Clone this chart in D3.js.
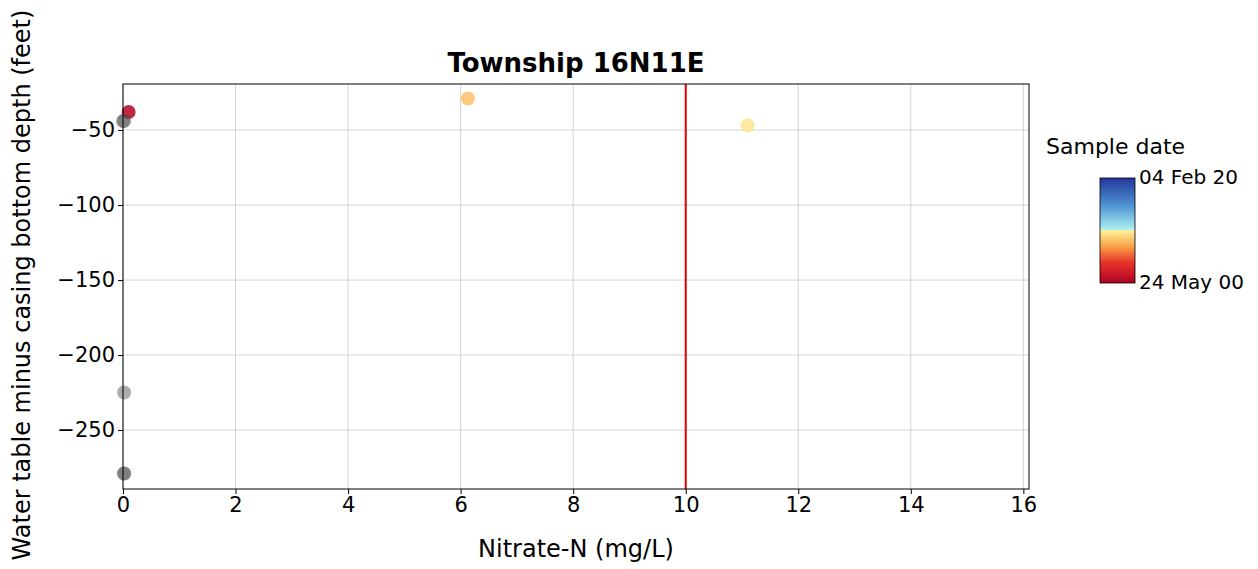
<!DOCTYPE html>
<html>
<head>
<meta charset="utf-8">
<script src="https://cdn.jsdelivr.net/npm/d3@7"></script>
<style>
  body { margin: 0; background: #fff; }
  text { font-family: "DejaVu Sans", sans-serif; fill: #000; }
</style>
</head>
<body>
<div id="canvas"></div>
<script>
"use strict"

/* Data */
let nitrate = [0.1, 0.0, 6.13, 11.1, 0.02, 0.02, 0.02, 0.02];
let depth = [-38, -44, -29, -47, -225, -279, -279, -44];
let sampleDate = ["2000-09-01", null, "2008-06-01", "2009-11-01", null, null, null, null];
let xTicks = [0, 2, 4, 6, 8, 10, 12, 14, 16];
let yTicks = [-250, -200, -150, -100, -50];
let dateRange = ["2000-05-24", "2020-02-04"];
let dateLabels = ["24 May 00", "04 Feb 20"];
let limitValue = 10;

/* Drawing config */
let svgWidth = 1258;
let svgHeight = 569;
let plot = { left: 123, right: 1029, top: 84, bottom: 489 };

let svg = d3.select("#canvas")
    .append("svg")
    .attr("width", svgWidth)
    .attr("height", svgHeight);

let xScale = d3.scaleLinear()
    .domain([0, 16.1])
    .range([plot.left, plot.right]);

let yScale = d3.scaleLinear()
    .domain([-289.3, -19.3])
    .range([plot.bottom, plot.top]);

let parseDate = d3.timeParse("%Y-%m-%d");
let tScale = d3.scaleTime()
    .domain(dateRange.map(parseDate))
    .range([0, 1]);

// red (old) -> yellow | cyan -> blue (new), like the reference bar
let colorOf = d3.scaleLinear()
    .domain([0, 0.2, 0.35, 0.5, 0.5001, 0.75, 1])
    .range(["#b00026", "#e8352a", "#f8a448", "#fff09a", "#b0f4f4", "#4a8ed0", "#24379a"])
    .clamp(true);

/* grid */
svg.append("g")
    .selectAll("line")
    .data(xTicks)
    .join("line")
    .attr("x1", d => xScale(d))
    .attr("x2", d => xScale(d))
    .attr("y1", plot.top)
    .attr("y2", plot.bottom)
    .attr("stroke", "#c8c8c8")
    .attr("stroke-width", 0.8);

svg.append("g")
    .selectAll("line")
    .data(yTicks)
    .join("line")
    .attr("x1", plot.left)
    .attr("x2", plot.right)
    .attr("y1", d => yScale(d))
    .attr("y2", d => yScale(d))
    .attr("stroke", "#c8c8c8")
    .attr("stroke-width", 0.8);

/* 10 mg/L line */
svg.append("line")
    .attr("x1", xScale(limitValue))
    .attr("x2", xScale(limitValue))
    .attr("y1", plot.top)
    .attr("y2", plot.bottom)
    .attr("stroke", "#e00000")
    .attr("stroke-width", 2);

/* points */
let points = nitrate.map(function (n, i) {
    return { x: n, y: depth[i], date: sampleDate[i] };
});

svg.append("g")
    .selectAll("circle")
    .data(points)
    .join("circle")
    .attr("cx", d => xScale(d.x))
    .attr("cy", d => yScale(d.y))
    .attr("r", 7)
    .attr("fill", d => d.date ? colorOf(tScale(parseDate(d.date))) : "#4a4a4a")
    .attr("opacity", d => d.date ? 0.85 : 0.45);

/* frame */
svg.append("rect")
    .attr("x", plot.left)
    .attr("y", plot.top)
    .attr("width", plot.right - plot.left)
    .attr("height", plot.bottom - plot.top)
    .attr("fill", "none")
    .attr("stroke", "#000")
    .attr("stroke-width", 1);

/* axes */
let xAxis = svg.append("g")
    .attr("transform", "translate(0," + plot.bottom + ")")
    .call(d3.axisBottom(xScale).tickValues(xTicks).tickSize(5).tickPadding(3));

let yAxis = svg.append("g")
    .attr("transform", "translate(" + plot.left + ",0)")
    .call(d3.axisLeft(yScale).tickValues(yTicks).tickSize(5).tickPadding(3)
        .tickFormat(d => "\u2212" + Math.abs(d)));

[xAxis, yAxis].forEach(function (a) {
    a.select(".domain").remove();
    a.selectAll("text")
        .style("font-family", "DejaVu Sans, sans-serif")
        .style("font-size", "21px")
        .attr("fill", "#000");
});

/* labels */
svg.append("text")
    .attr("x", (plot.left + plot.right) / 2)
    .attr("y", 72)
    .attr("text-anchor", "middle")
    .style("font-size", "26px")
    .style("font-weight", "bold")
    .text("Township 16N11E");

svg.append("text")
    .attr("x", (plot.left + plot.right) / 2)
    .attr("y", 557)
    .attr("text-anchor", "middle")
    .style("font-size", "24px")
    .text("Nitrate-N (mg/L)");

svg.append("text")
    .attr("transform", "translate(30," + 285 + ") rotate(-90)")
    .attr("text-anchor", "middle")
    .style("font-size", "24px")
    .text("Water table minus casing bottom depth (feet)");

/* colorbar */
let cb = { x: 1100, y: 178, w: 35, h: 105 };

let defs = svg.append("defs");
let grad = defs.append("linearGradient")
    .attr("id", "cbGrad")
    .attr("x1", 0).attr("y1", 1)
    .attr("x2", 0).attr("y2", 0);

grad.selectAll("stop")
    .data(colorOf.domain())
    .join("stop")
    .attr("offset", d => d)
    .attr("stop-color", d => colorOf(d));

svg.append("text")
    .attr("x", 1046)
    .attr("y", 154)
    .style("font-size", "22px")
    .text("Sample date");

svg.append("rect")
    .attr("x", cb.x)
    .attr("y", cb.y)
    .attr("width", cb.w)
    .attr("height", cb.h)
    .attr("fill", "url(#cbGrad)")
    .attr("stroke", "#000")
    .attr("stroke-width", 0.8);

svg.append("text")
    .attr("x", cb.x + cb.w + 4)
    .attr("y", cb.y)
    .attr("dominant-baseline", "middle")
    .style("font-size", "20px")
    .text(dateLabels[1]);

svg.append("text")
    .attr("x", cb.x + cb.w + 4)
    .attr("y", cb.y + cb.h)
    .attr("dominant-baseline", "middle")
    .style("font-size", "20px")
    .text(dateLabels[0]);
</script>
</body>
</html>
